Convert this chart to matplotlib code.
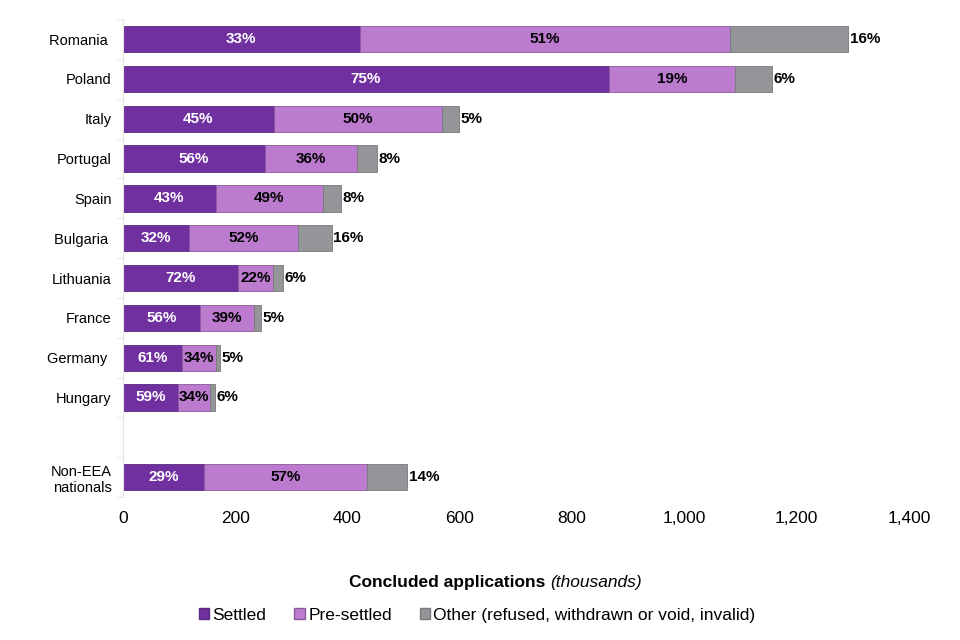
import matplotlib
matplotlib.use("Agg")
import matplotlib.pyplot as plt
from matplotlib.patches import Patch
import numpy as np

plt.rcParams['font.family'] = ['Liberation Sans', 'DejaVu Sans']

categories = ["Romania ", "Poland", "Italy", "Portugal", "Spain", "Bulgaria ",
              "Lithuania", "France", "Germany ", "Hungary", "", "Non-EEA\nnationals"]
settled = [422, 866, 269, 253, 166, 118, 205, 137, 105, 98, 0, 144]
presettled = [659, 224, 299, 164, 190, 194, 62, 96, 61, 57, 0, 291]
other = [210, 66, 31, 35, 32, 60, 18, 13, 7, 9, 0, 71]
pct_settled = ["33%", "75%", "45%", "56%", "43%", "32%", "72%", "56%", "61%", "59%", "", "29%"]
pct_pre = ["51%", "19%", "50%", "36%", "49%", "52%", "22%", "39%", "34%", "34%", "", "57%"]
pct_other = ["16%", "6%", "5%", "8%", "8%", "16%", "6%", "5%", "5%", "6%", "", "14%"]
xticks = [0, 200, 400, 600, 800, 1000, 1200, 1400]
xticklabels = ["0", "200", "400", "600", "800", "1,000", "1,200", "1,400"]

c_set = "#7030A0"
c_pre = "#BC7BCF"
c_oth = "#939598"

fig = plt.figure(figsize=(9.6, 6.4), dpi=100)
ax = fig.add_axes([0.128, 0.2234, 0.819, 0.7466])

y = np.arange(len(categories))
s = np.array(settled); p = np.array(presettled); o = np.array(other)
h = 0.66
mask = s + p + o > 0
ax.barh(y[mask], s[mask], height=h, color=c_set, edgecolor="#5a2a80", linewidth=0.6)
ax.barh(y[mask], p[mask], left=s[mask], height=h, color=c_pre, edgecolor="#8a5a9a", linewidth=0.6)
ax.barh(y[mask], o[mask], left=(s + p)[mask], height=h, color=c_oth, edgecolor="#7a7a7a", linewidth=0.6)

for i in range(len(categories)):
    if not mask[i]:
        continue
    ax.text(s[i] / 2, y[i], pct_settled[i], ha="center", va="center", color="white",
            fontsize=11, fontweight="bold")
    ax.text(s[i] + p[i] / 2, y[i], pct_pre[i], ha="center", va="center", color="black",
            fontsize=11, fontweight="bold")
    ax.text(s[i] + p[i] + o[i] + 3, y[i], pct_other[i], ha="left", va="center", color="black",
            fontsize=11, fontweight="bold")

ax.set_ylim(len(categories) - 0.5, -0.5)
ax.set_xlim(0, 1400)
ax.set_yticks(y)
ax.set_yticklabels(categories, fontsize=10.5)
ax.tick_params(axis="y", length=0, pad=8)
ax.set_yticks(np.arange(-0.5, len(categories), 1), minor=True)
ax.tick_params(axis="y", which="minor", length=4, color="#e0e0e0", direction="out")
ax.set_xticks(xticks)
ax.set_xticklabels(xticklabels, fontsize=12.5)
ax.tick_params(axis="x", length=0, pad=10)
for sp in ["top", "right", "bottom"]:
    ax.spines[sp].set_visible(False)
ax.spines["left"].set_color("#e5e5e5")

# x axis title with bold + italic parts
r = fig.canvas.get_renderer()
tb = fig.text(0, 0, "Concluded applications ", fontsize=12.5, fontweight="bold")
ti = fig.text(0, 0, "(thousands)", fontsize=12.5, fontstyle="italic")
wb = tb.get_window_extent(r).width
wi = ti.get_window_extent(r).width
total = wb + wi
cx = 0.5 * 960 + 15
x0 = cx - total / 2
ypx = 640 - 582
tb.set_position((x0 / 960, ypx / 640)); tb.set_va("center")
ti.set_position(((x0 + wb) / 960, ypx / 640)); ti.set_va("center")

handles = [Patch(facecolor=c_set, edgecolor="#5a2a80"),
           Patch(facecolor=c_pre, edgecolor="#8a5a9a"),
           Patch(facecolor=c_oth, edgecolor="#7a7a7a")]
labels = ["Settled", "Pre-settled", "Other (refused, withdrawn or void, invalid)"]
fig.legend(handles, labels, loc="center", bbox_to_anchor=(0.497, 0.039), ncol=3,
           frameon=False, fontsize=12.5, handlelength=0.6, handleheight=0.6,
           handletextpad=0.2, columnspacing=1.6)

fig.savefig("out.png", dpi=100)
